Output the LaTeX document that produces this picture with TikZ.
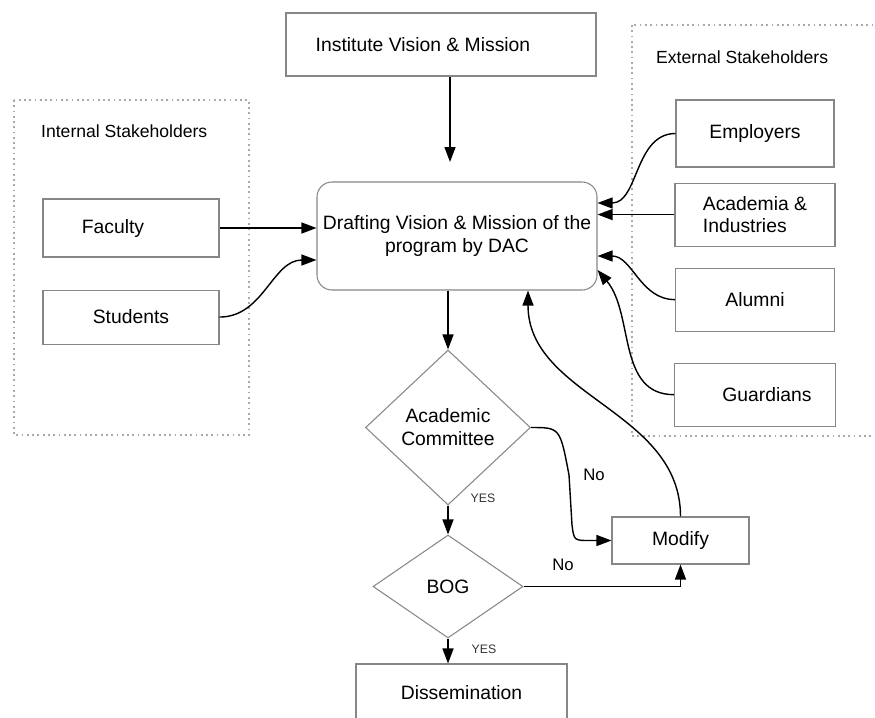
\documentclass[tikz,border=0pt]{standalone}
\usepackage{fontspec}
\setmainfont{Liberation Sans}
\usepackage{tikz}
\usetikzlibrary{calc,positioning,shapes}
\usetikzlibrary{arrows.meta}
\definecolor{boxgray}{RGB}{135,135,135}
\definecolor{dotgray}{RGB}{170,170,170}
\tikzset{>={Triangle[width=2.2mm,length=3mm]}}
\tikzset{block/.style = {draw=boxgray, fill=white, rectangle, line width=0.6pt,
                  font=\fontsize{11}{13}\selectfont, inner sep=1pt},
        decision/.style = {draw=boxgray, fill=white, diamond, line width=0.6pt,
                  font=\fontsize{11}{13}\selectfont, align=center, inner sep=0pt},
        stakebox/.style = {draw=dotgray, dotted, line width=1pt},
        conn/.style = {->, black, line width=0.8pt}
    }

\begin{document}
\begin{tikzpicture}
          \tikzstyle{grouplabel} = [font=\fontsize{10}{12}\selectfont, anchor=west]
          \tikzstyle{answer} = [font=\fontsize{9.5}{11}\selectfont]
          \tikzstyle{yeslabel} = [font=\fontsize{7}{8}\selectfont, text=black!80]

          \useasboundingbox (0,0) rectangle (17.5,-14.34);

          % stakeholder groups
          \draw[stakebox] (0.28,-2.0) rectangle (4.98,-8.7);
          \node[grouplabel] (intlbl) at (0.7,-2.62) {Internal Stakeholders};
          \draw[stakebox] (12.64,-0.5) rectangle (17.8,-8.72);
          \node[grouplabel] (extlbl) at (13.0,-1.14) {External Stakeholders};

          \node[block, minimum width=6.2cm, minimum height=1.26cm] (inst) at (8.82,-0.89) {Institute Vision \& Mission\hspace*{0.72cm}};
          \node[block, rounded corners=0.3cm, minimum width=5.6cm, minimum height=2.16cm, align=center] (dac) at (9.14,-4.72)
            {Drafting Vision \& Mission of the\\program by DAC};

          \node[block, minimum width=3.52cm, minimum height=1.16cm] (fac) at (2.62,-4.56) {Faculty\hspace*{0.72cm}};
          \node[block, minimum width=3.52cm, minimum height=1.08cm, below=0.64 of fac] (stu) {Students};

          \node[block, minimum width=3.16cm, minimum height=1.34cm] (emp) at (15.1,-2.67) {Employers};
          \node[block, minimum width=3.2cm, minimum height=1.26cm, below=0.3 of emp, align=left] (acad) {Academia \&\\Industries};
          \node[block, minimum width=3.18cm, minimum height=1.26cm, below=0.42 of acad] (alum) {Alumni};
          \node[block, minimum width=3.22cm, minimum height=1.26cm, below=0.62 of alum] (guard) {\hspace*{0.48cm}Guardians};

          \node[decision, minimum width=3.3cm, minimum height=3.1cm] (ac) at (8.96,-8.55) {Academic\\Committee};
          \node[decision, minimum width=3.0cm, minimum height=2.06cm] (bog) at (8.96,-11.73) {BOG};
          \node[block, minimum width=4.22cm, minimum height=1.16cm] (dis) at (9.23,-13.86) {Dissemination};
          \node[block, minimum width=2.74cm, minimum height=0.94cm] (mod) at (13.61,-10.81) {Modify};

          % inputs to the draft
          \coordinate (instend) at (9.0,-3.24);
          \draw[conn] (instend |- inst.south) -- (instend);
          \draw[conn] (fac.east) -- (fac.east -| dac.west);
          \draw[conn] (stu.east) to[out=0,in=180] ($(dac.west)+(0,-0.48)$);
          \draw[conn] (emp.west) to[out=180,in=0] ($(dac.east)+(0,0.66)$);
          \draw[conn] (acad.west) -- (acad.west -| dac.east);
          \draw[conn] (alum.west) to[out=180,in=0] ($(dac.east)+(0,-0.4)$);
          \draw[conn] (guard.west) to[out=180,in=-50] ($(dac.east)+(0,-0.68)$);

          % approval flow
          \draw[conn] (dac.south -| ac.north) -- (ac.north);
          \draw[conn] (ac.south) -- (bog.north);
          \draw[conn] (bog.south) -- (bog.south |- dis.north);
          \draw[conn] (ac.east) .. controls (11.2,-8.55) .. (11.38,-9.5) -- (11.44,-10.5)
            .. controls (11.48,-10.81) .. (11.8,-10.81) -- (mod.west);
          \draw[conn] (bog.east) -| (mod.south);
          \draw[conn] (mod.north) to[out=90,in=-90] ($(dac.south)+(1.42,0)$);

          \node[answer] (no1) at (11.88,-9.5) {No};
          \node[answer] (no2) at (11.26,-11.3) {No};
          \node[yeslabel] (yes1) at (9.66,-9.96) {YES};
          \node[yeslabel] (yes2) at (9.68,-12.98) {YES};
        \end{tikzpicture}
\end{document}
